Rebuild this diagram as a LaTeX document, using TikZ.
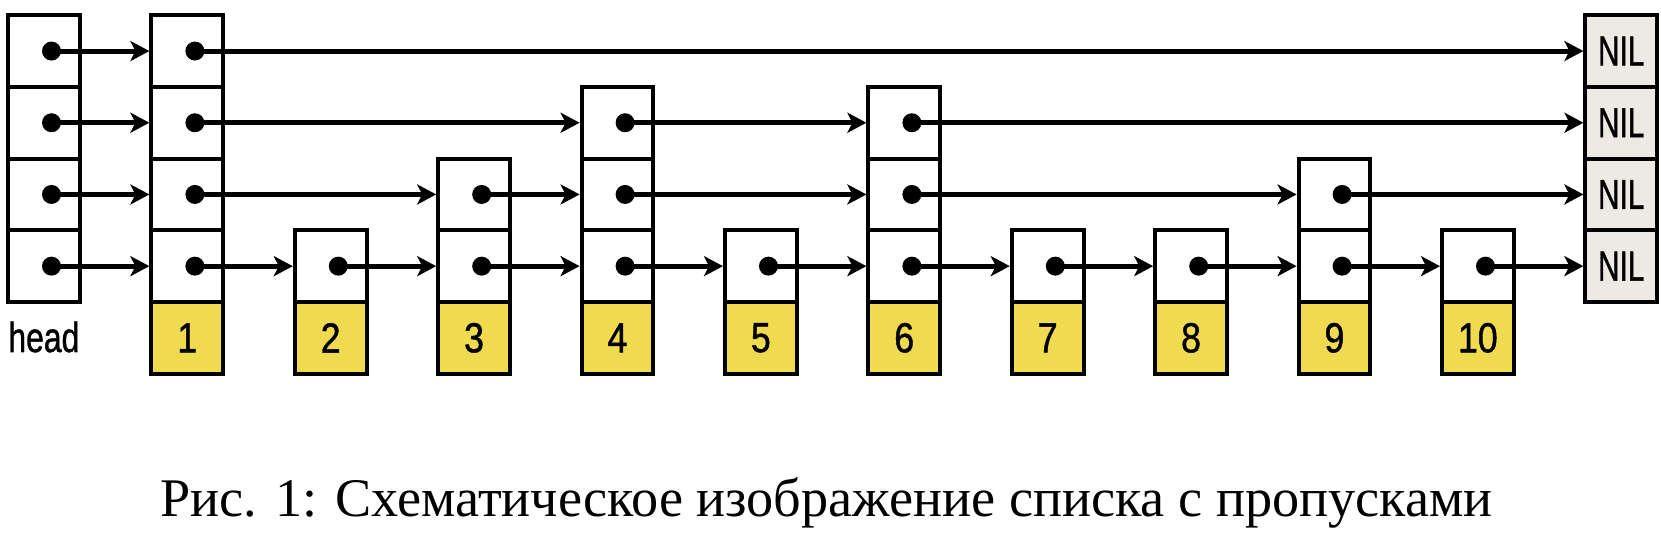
\documentclass[tikz,border=0pt]{standalone}
\usepackage{graphicx}
\usepackage{fontspec}
\setmainfont{Liberation Serif}
\newfontfamily\lsans[FakeBold=1.2]{Liberation Sans}
\usetikzlibrary{arrows.meta}
\definecolor{keyyellow}{RGB}{240,218,80}
\definecolor{nilgray}{RGB}{236,234,227}
\newcommand\condtext[2]{\scalebox{#1}[1]{#2}}
\begin{document}
\begin{tikzpicture}[x=0.5pt,y=-0.5pt,
  cell/.style={draw,line width=2pt,minimum width=35.85pt,minimum height=35.85pt,inner sep=0pt,fill=white},
  keycell/.style={cell,fill=keyyellow,font=\lsans\fontsize{21pt}{21pt}\selectfont},
  nilcell/.style={cell,fill=nilgray,font=\lsans\fontsize{21pt}{21pt}\selectfont},
  dot/.style={circle,fill=black,inner sep=0pt,minimum size=9.5pt},
  ptr/.style={line width=2.5pt,-{Stealth[length=9.5pt,width=10pt,inset=2.5pt]}}]
\useasboundingbox (0,0) rectangle (1661,534);
% pointer cells
\foreach \k/\h in {0/4,1/4,2/1,3/2,4/3,5/1,6/3,7/1,8/1,9/2,10/1}{
  \foreach \L in {1,...,\h}{
    \node[cell] (c\k-\L) at ({43.85+143.4*\k},{337.85-71.7*\L}) {};
    \node[dot] (d\k-\L) at ({51.5+143.4*\k},{337.85-71.7*\L}) {};
  }
}
% NIL column
\foreach \L in {1,...,4}{
  \node[nilcell] (c11-\L) at ({43.85+143.4*11},{337.85-71.7*\L}) {\condtext{0.71}{NIL}};
}
% key cells
\foreach \k in {1,...,10}{
  \node[keycell] (k\k) at ({43.85+143.4*\k},337.85) {\condtext{0.85}{\k}};
}
\node[font=\lsans\fontsize{21pt}{21pt}\selectfont,anchor=base,inner sep=0pt] (head) at (43.85,352) {\condtext{0.76}{head}};
% pointers
\foreach \a/\b/\L in {0/1/4,1/11/4,
  0/1/3,1/4/3,4/6/3,6/11/3,
  0/1/2,1/3/2,3/4/2,4/6/2,6/9/2,9/11/2,
  0/1/1,1/2/1,2/3/1,3/4/1,4/5/1,5/6/1,6/7/1,7/8/1,8/9/1,9/10/1,10/11/1}{
  \draw[ptr] (d\a-\L.center) -- (c\b-\L.west);
}
\node[anchor=base west,inner sep=0pt] (cap) at (160,516) {\resizebox{666pt}{\height}{\fontsize{27.2pt}{30pt}\selectfont Рис. 1: Схематическое изображение списка с пропусками}};
\end{tikzpicture}
\end{document}
